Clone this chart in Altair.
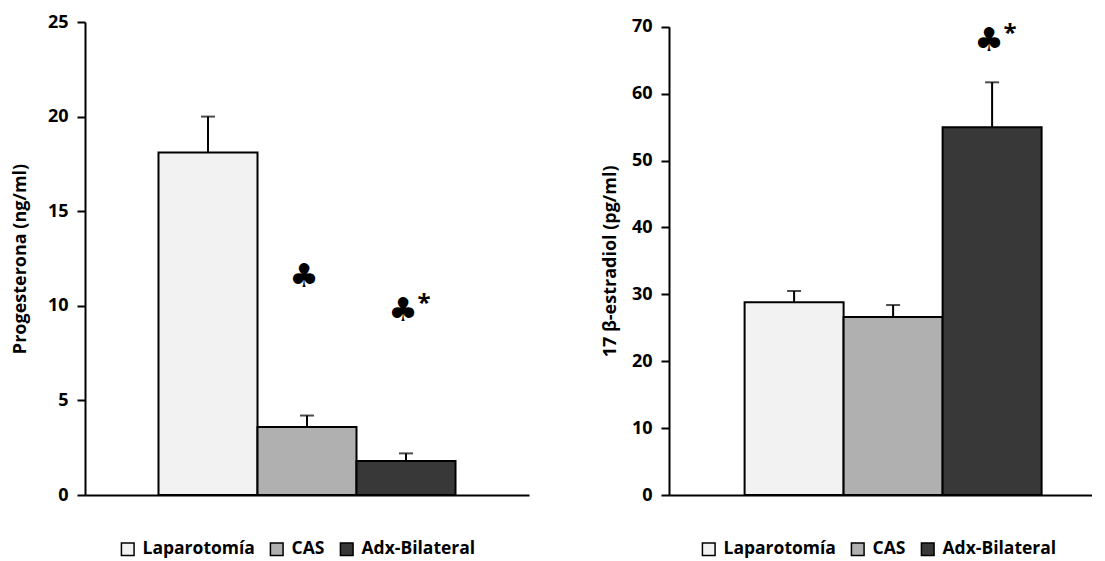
import altair as alt
import pandas as pd

# ---- data ----
groups = ["Laparotomía", "CAS", "Adx-Bilateral"]

prog_mean = [18.1, 3.6, 1.8]
prog_sem = [1.9, 0.6, 0.4]

estr_mean = [28.8, 26.6, 55.0]
estr_sem = [1.7, 1.8, 6.7]

prog_sig_groups = ["CAS", "Adx-Bilateral"]
prog_sig_y = [11.5, 9.7]
prog_sig_star = ["", "*"]

estr_sig_groups = ["Adx-Bilateral"]
estr_sig_y = [67.9]
estr_sig_star = ["*"]

fills = ["#f2f2f2", "#b0b0b0", "#383838"]

FONT = "Open Sans"


def panel(mean, sem, sig_g, sig_y, sig_star, ytitle, ymax, ystep,
          width, height, xalign, legx, legy, tpad, yrange=None):
    df = pd.DataFrame({"grupo": groups, "media": mean, "sem": sem})
    df["sup"] = df["media"] + df["sem"]
    ann = pd.DataFrame({"grupo": sig_g, "y": sig_y, "star": sig_star})

    step = 99.0
    po = (width / step - 3) / 2
    xenc = alt.X(
        "grupo:N", sort=groups,
        scale=alt.Scale(paddingInner=0, paddingOuter=po, align=xalign),
        axis=alt.Axis(labels=False, ticks=False, title=None,
                      domainColor="black", domainWidth=2),
    )
    sc = dict(domain=[0, ymax], nice=False, zero=True)
    if yrange is not None:
        sc["range"] = yrange
    yscale = alt.Scale(**sc)
    yaxis = alt.Axis(
        values=list(range(0, ymax + 1, ystep)), title=ytitle,
        grid=False, domainColor="black", domainWidth=2,
        tickColor="black", tickWidth=2, tickSize=8,
        labelFont=FONT, labelFontSize=18, labelFontWeight="bold",
        labelColor="black", labelPadding=9,
        titleFont=FONT, titleFontSize=18, titleFontWeight="bold",
        titleColor="black", titlePadding=tpad,
    )

    bars = alt.Chart(df).mark_bar(stroke="black", strokeWidth=2).encode(
        x=xenc,
        y=alt.Y("media:Q", scale=yscale, axis=yaxis),
        fill=alt.Fill(
            "grupo:N", sort=groups,
            scale=alt.Scale(domain=groups, range=fills),
            legend=alt.Legend(
                orient="none", legendX=legx, legendY=legy,
                direction="horizontal", title=None, padding=0,
                symbolType="square", symbolSize=160,
                symbolStrokeColor="black", symbolStrokeWidth=1.5,
                symbolOpacity=1,
                labelFont=FONT, labelFontSize=17.5, labelFontWeight="bold",
                labelColor="black", labelOffset=6, columnPadding=12,
            ),
        ),
    )
    err = alt.Chart(df).mark_rule(color="black", strokeWidth=2).encode(
        x=alt.X("grupo:N", sort=groups),
        y=alt.Y("media:Q", scale=yscale),
        y2="sup:Q",
    )
    cap = alt.Chart(df).mark_tick(color="black", thickness=2, size=14).encode(
        x=alt.X("grupo:N", sort=groups),
        y=alt.Y("sup:Q", scale=yscale),
    )
    club = alt.Chart(ann).mark_text(
        text="♣", font="DejaVu Sans", fontSize=33, color="black",
        baseline="middle", align="center", dx=-3,
    ).encode(
        x=alt.X("grupo:N", sort=groups),
        y=alt.Y("y:Q", scale=yscale),
    )
    star = alt.Chart(ann).mark_text(
        font=FONT, fontSize=24, fontWeight="bold", color="black",
        baseline="middle", align="center", dx=18, dy=-7,
    ).encode(
        x=alt.X("grupo:N", sort=groups),
        y=alt.Y("y:Q", scale=yscale),
        text="star:N",
    )
    return alt.layer(bars, err, cap, club, star).properties(
        width=width, height=height
    )


left = panel(prog_mean, prog_sem, prog_sig_groups, prog_sig_y, prog_sig_star,
             "Progesterona (ng/ml)", 25, 5, 444, 473, 0.5, 34, 518, 17.5)
right = panel(estr_mean, estr_sem, estr_sig_groups, estr_sig_y, estr_sig_star,
              "17 β-estradiol (pg/ml)", 70, 10, 423, 473, 0.6, 31, 518, 12,
              yrange=[473, 4.8])

chart = alt.hconcat(left, right, spacing=72).resolve_scale(
    fill="independent", y="independent", x="independent"
).properties(
    padding={"left": 3, "top": 5, "right": 0, "bottom": 0},
    background="white",
).configure_view(stroke="transparent", strokeWidth=0)

chart.save("out.html", embed_options={"renderer": "svg", "actions": False})
